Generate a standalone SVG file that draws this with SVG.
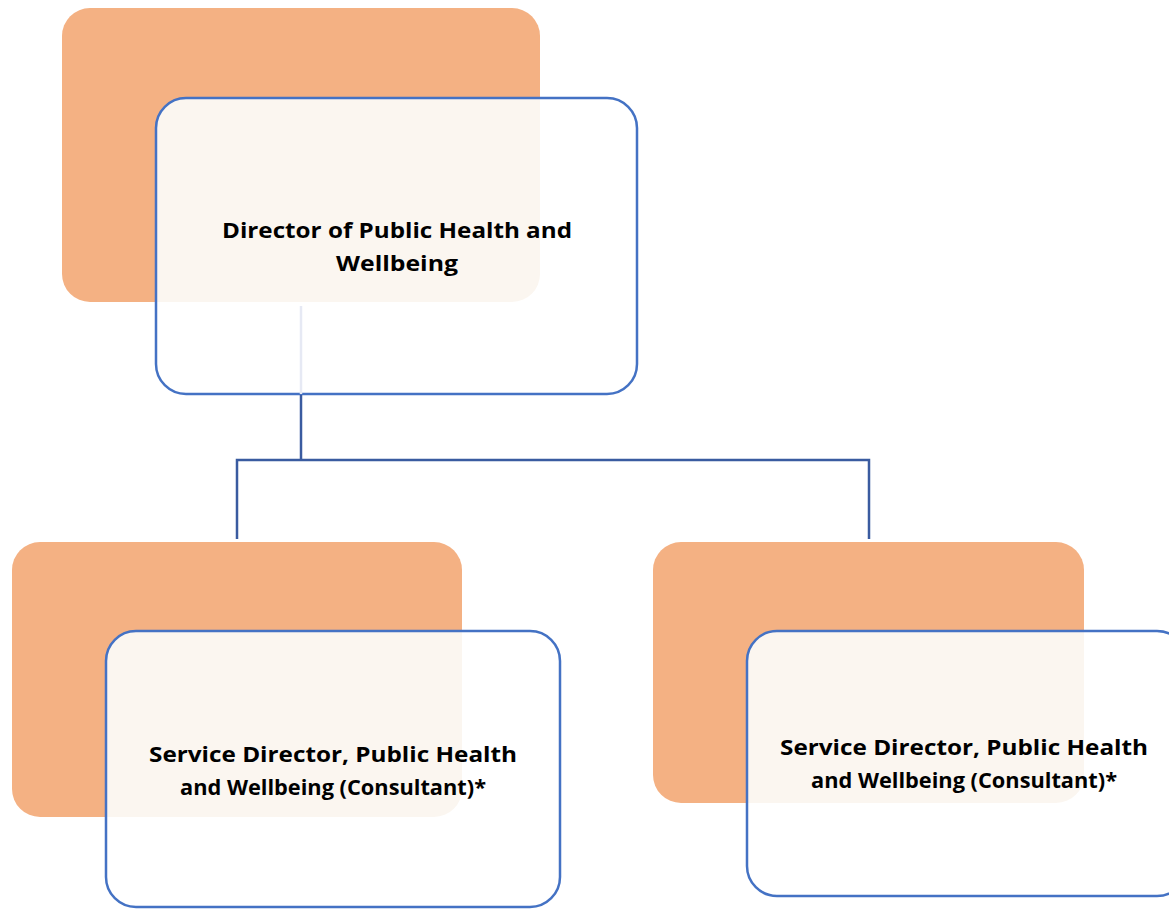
<svg xmlns="http://www.w3.org/2000/svg" width="1169" height="909" viewBox="0 0 1169 909">
<style>
.back{fill:#F4B183}
.front{fill:#FFFFFF}
.ovl{fill:#FBF6F0}
.edge{fill:none;stroke:#4472C4;stroke-width:2.5}
.lbl{font-family:"Open Sans","Liberation Sans",Arial,sans-serif;font-weight:bold;font-size:22px;fill:#000;text-anchor:middle}
.conn{fill:none;stroke:#3A5BA0;stroke-width:2.5}
</style>
<defs>
<clipPath id="c1"><rect x="62" y="8" width="478" height="294" rx="28"/></clipPath>
<clipPath id="c2"><rect x="12" y="542" width="450" height="275" rx="28"/></clipPath>
<clipPath id="c3"><rect x="653" y="542" width="431" height="261" rx="28"/></clipPath>
</defs>
<rect width="1169" height="909" fill="#FFFFFF"/>
<g id="node-director">
<rect class="back" x="62" y="8" width="478" height="294" rx="28"/>
<rect class="front" x="156" y="98" width="481" height="296" rx="30"/>
<rect class="ovl" x="156" y="98" width="481" height="296" rx="30" clip-path="url(#c1)"/>
<rect class="edge" x="156" y="98" width="481" height="296" rx="30"/>
<text class="lbl" x="397" y="238" textLength="350" lengthAdjust="spacingAndGlyphs">Director of Public Health and</text>
<text class="lbl" x="397" y="271" textLength="122" lengthAdjust="spacingAndGlyphs">Wellbeing</text>
</g>
<g id="connectors">
<line x1="301" y1="306" x2="301" y2="394" stroke="#E6E9F4" stroke-width="2.5"/>
<polyline class="conn" points="301,395 301,460"/>
<polyline class="conn" points="237,539 237,460 869,460 869,539"/>
</g>
<g id="node-sd-left">
<rect class="back" x="12" y="542" width="450" height="275" rx="28"/>
<rect class="front" x="106" y="631" width="454" height="276" rx="30"/>
<rect class="ovl" x="106" y="631" width="454" height="276" rx="30" clip-path="url(#c2)"/>
<rect class="edge" x="106" y="631" width="454" height="276" rx="30"/>
<text class="lbl" x="333" y="762" textLength="368" lengthAdjust="spacingAndGlyphs">Service Director, Public Health</text>
<text class="lbl" x="333" y="795" textLength="306" lengthAdjust="spacingAndGlyphs">and Wellbeing (Consultant)*</text>
</g>
<g id="node-sd-right">
<rect class="back" x="653" y="542" width="431" height="261" rx="28"/>
<rect class="front" x="747" y="631" width="440" height="265" rx="30"/>
<rect class="ovl" x="747" y="631" width="440" height="265" rx="30" clip-path="url(#c3)"/>
<rect class="edge" x="747" y="631" width="440" height="265" rx="30"/>
<text class="lbl" x="964" y="755" textLength="368" lengthAdjust="spacingAndGlyphs">Service Director, Public Health</text>
<text class="lbl" x="964" y="788" textLength="306" lengthAdjust="spacingAndGlyphs">and Wellbeing (Consultant)*</text>
</g>
</svg>
